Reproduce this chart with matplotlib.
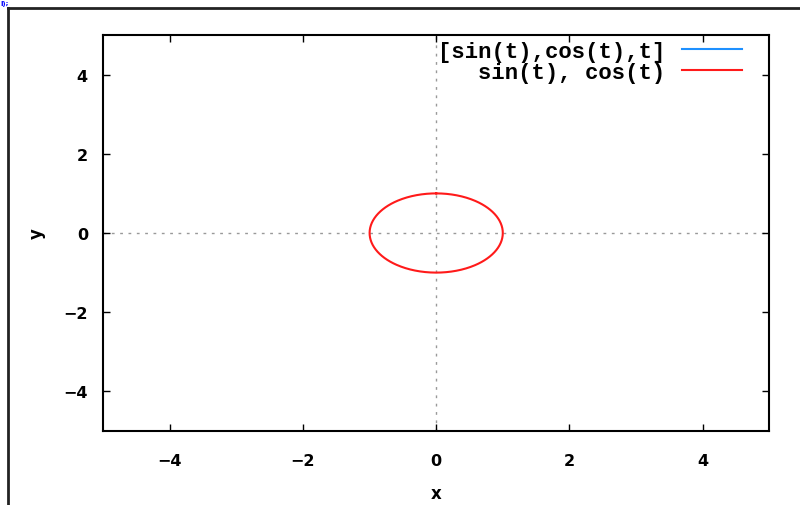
import numpy as np
import matplotlib.pyplot as plt
from matplotlib.lines import Line2D

# parametric curve from the legend: sin(t), cos(t)
t = np.linspace(0, 2 * np.pi, 400)
curve_x = np.sin(t)
curve_y = np.cos(t)

ticks = [-4, -2, 0, 2, 4]
tick_labels = ['\u22124', '\u22122', '0', '2', '4']
x_range = [-5, 5]
y_range = [-5, 5]

fig = plt.figure(figsize=(8, 5.06), dpi=100)
ax = fig.add_axes([0.129, 0.1462, 0.8325, 0.7827])

# 3D series only shows up in the legend
ax.plot([], [], color='#1e90ff', lw=1.5, label='[sin(t),cos(t),t]')
ax.plot(curve_x, curve_y, color='#ff1a1a', lw=1.5, label='sin(t), cos(t)')

ax.axhline(0, color='#999999', lw=1, ls=(0, (2, 4)), zorder=0)
ax.axvline(0, color='#999999', lw=1, ls=(0, (2, 4)), zorder=0)

ax.set_xlim(x_range)
ax.set_ylim(y_range)
ax.set_xticks(ticks)
ax.set_yticks(ticks)
ax.set_xticklabels(tick_labels)
ax.set_yticklabels(tick_labels)
ax.tick_params(direction='in', length=5, width=1, top=True, right=True,
               labelsize=11.5)
ax.tick_params(axis='x', pad=16)
ax.tick_params(axis='y', pad=11)
for lab in ax.get_xticklabels() + ax.get_yticklabels():
    lab.set_fontweight('bold')
for s in ax.spines.values():
    s.set_linewidth(1.5)

ax.set_xlabel('x', fontsize=12, fontweight='bold', labelpad=11)
ax.set_ylabel('y', fontsize=12, fontweight='bold', labelpad=13)

leg = ax.legend(loc='upper right', frameon=False, markerfirst=False,
                handlelength=2.7, handletextpad=0.75, labelspacing=0.0,
                borderpad=0, borderaxespad=0,
                bbox_to_anchor=(742 / 800, 1 - 42 / 506),
                bbox_transform=fig.transFigure,
                prop={'family': 'Liberation Mono', 'weight': 'bold', 'size': 16})

# outer page frame and blue text fragment above it
fig.add_artist(Line2D([8 / 800, 1], [1 - 9 / 506, 1 - 9 / 506], color='#222222', lw=2))
fig.add_artist(Line2D([8 / 800, 8 / 800], [0, 1 - 9 / 506], color='#222222', lw=2))
fig.text(0.001, 0.999, 'l);', color='#0000ff', fontsize=5, fontweight='bold', va='top')

fig.savefig('out.png')
